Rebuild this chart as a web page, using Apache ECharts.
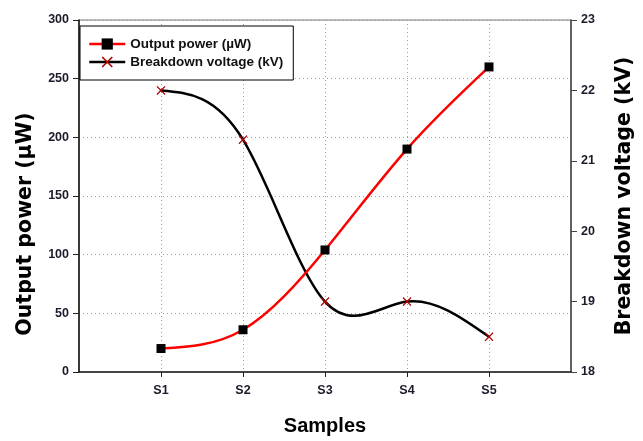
<!DOCTYPE html>
<html>
<head>
<meta charset="utf-8">
<script src="https://cdn.jsdelivr.net/npm/echarts@6/dist/echarts.min.js"></script>
<style>html,body{margin:0;padding:0;background:#fff}#c{width:643px;height:441px}</style>
</head>
<body>
<div id="c"></div>
<script>
var categories = ['S1', 'S2', 'S3', 'S4', 'S5'];
var outputPower = [20, 36, 104, 190, 260];
var breakdownVoltage = [22.0, 21.3, 19.0, 19.0, 18.5];
var leftTicks = {min: 0, max: 300, interval: 50};
var rightTicks = {min: 18, max: 23, interval: 1};

var xData = [''].concat(categories, ['']);
var pad = function (arr) { return ['-'].concat(arr, ['-']); };
var inner = function (i) { return i > 0 && i < xData.length - 1; };
var xMark = 'path://M1,0 L5,4 L9,0 L10,1 L6,5 L10,9 L9,10 L5,6 L1,10 L0,9 L4,5 L0,1 Z';
var tickFont = {fontFamily: 'Liberation Sans, Arial, sans-serif', fontWeight: 'bold', fontSize: 12.5, color: '#1a1a2a'};
var dotted = {type: [1, 3], color: '#a5a57a', width: 1};

// natural cubic spline through pixel points (uniform x spacing), returned as SVG path data
function splinePath(pts) {
  var n = pts.length;
  if (n < 2) return '';
  var h = pts[1][0] - pts[0][0];
  var M = new Array(n).fill(0);
  if (n > 2) {
    var m = n - 2, a = [], b = [], c = [], d = [];
    for (var i = 1; i <= m; i++) {
      a.push(1); b.push(4); c.push(1);
      d.push(6 * (pts[i + 1][1] - 2 * pts[i][1] + pts[i - 1][1]) / (h * h));
    }
    for (var k = 1; k < m; k++) {
      var w = a[k] / b[k - 1];
      b[k] -= w * c[k - 1];
      d[k] -= w * d[k - 1];
    }
    var sol = new Array(m);
    sol[m - 1] = d[m - 1] / b[m - 1];
    for (var k2 = m - 2; k2 >= 0; k2--) sol[k2] = (d[k2] - c[k2] * sol[k2 + 1]) / b[k2];
    for (var j = 0; j < m; j++) M[j + 1] = sol[j];
  }
  var s = 'M' + pts[0][0] + ' ' + pts[0][1];
  for (var q = 0; q < n - 1; q++) {
    var x0 = pts[q][0], y0 = pts[q][1], x1 = pts[q + 1][0], y1 = pts[q + 1][1];
    var hh = x1 - x0;
    var slope = (y1 - y0) / hh;
    var d0 = slope - hh * (2 * M[q] + M[q + 1]) / 6;
    var d1 = slope + hh * (M[q] + 2 * M[q + 1]) / 6;
    s += ' C' + (x0 + hh / 3) + ' ' + (y0 + d0 * hh / 3) + ' ' +
         (x1 - hh / 3) + ' ' + (y1 - d1 * hh / 3) + ' ' + x1 + ' ' + y1;
  }
  return s;
}

function curveSeries(values, yAxisIndex, color, z) {
  return {
    type: 'custom', coordinateSystem: 'cartesian2d', yAxisIndex: yAxisIndex, silent: true, z: z,
    data: values.map(function (v, i) { return [i + 1, v]; }),
    renderItem: function (params, api) {
      if (params.dataIndex !== 0) return null;
      var pts = values.map(function (v, i) { return api.coord([i + 1, v]); });
      return {type: 'path', shape: {pathData: splinePath(pts)},
        style: {stroke: color, lineWidth: 2.5, fill: null, lineJoin: 'round', lineCap: 'round'}};
    }
  };
}

var chart = echarts.init(document.getElementById('c'), null, {renderer: 'canvas'});
chart.setOption({
  animation: false,
  grid: {left: 79, right: 62, top: 20, bottom: 61, show: true, borderColor: '#777', borderWidth: 1},
  legend: {
    orient: 'vertical', left: 80, top: 26,
    padding: [11, 10, 11, 8], itemGap: 4, itemWidth: 36, itemHeight: 14,
    backgroundColor: '#fff', borderColor: '#000', borderWidth: 1, borderRadius: 0,
    textStyle: {fontFamily: 'Liberation Sans, Arial, sans-serif', fontWeight: 'bold', fontSize: 13.5, color: '#111'},
    data: [
      {name: 'Output power (µW)', lineStyle: {color: '#ff0000', width: 2.5, opacity: 1}},
      {name: 'Breakdown voltage (kV)', lineStyle: {color: '#000', width: 2.5, opacity: 1}}
    ]
  },
  xAxis: {
    type: 'category', data: xData, boundaryGap: false,
    name: 'Samples', nameLocation: 'middle', nameGap: 44,
    nameTextStyle: {fontFamily: 'Liberation Sans, Arial, sans-serif', fontWeight: 'bold', fontSize: 20, color: '#000'},
    axisLine: {lineStyle: {color: '#222', width: 1.5}},
    axisTick: {show: true, inside: false, length: 5, interval: function (i) { return inner(i); }, lineStyle: {color: '#222'}},
    axisLabel: Object.assign({margin: 12, interval: 0}, tickFont),
    splitLine: {show: true, interval: function (i) { return inner(i); }, lineStyle: dotted}
  },
  yAxis: [{
    type: 'value', position: 'left', min: leftTicks.min, max: leftTicks.max, interval: leftTicks.interval,
    name: 'Output power (µW)', nameLocation: 'middle', nameGap: 43, nameRotate: 90,
    nameTextStyle: {fontFamily: 'DejaVu Sans, sans-serif', fontWeight: 'bold', fontSize: 20.5, color: '#000',
      padding: [0, 56, 0, 0]},
    axisLine: {show: true, lineStyle: {color: '#111', width: 1.5}},
    axisTick: {show: true, length: 6, lineStyle: {color: '#222'}},
    axisLabel: Object.assign({margin: 10}, tickFont),
    splitLine: {show: true, lineStyle: dotted}
  }, {
    type: 'value', position: 'right', min: rightTicks.min, max: rightTicks.max, interval: rightTicks.interval,
    name: 'Breakdown voltage (kV)', nameLocation: 'middle', nameGap: 43, nameRotate: 90,
    nameTextStyle: {fontFamily: 'DejaVu Sans, sans-serif', fontWeight: 'bold', fontSize: 20.5, color: '#000'},
    axisLine: {show: true, lineStyle: {color: '#444', width: 1.5}},
    axisTick: {show: true, length: 6, lineStyle: {color: '#444'}},
    axisLabel: Object.assign({margin: 10}, tickFont),
    splitLine: {show: false}
  }],
  series: [
    curveSeries(breakdownVoltage, 1, '#000', 2),
    curveSeries(outputPower, 0, '#ff0000', 3),
    {
      name: 'Output power (µW)', type: 'line', yAxisIndex: 0, data: pad(outputPower),
      symbol: 'rect', symbolSize: 9,
      lineStyle: {color: '#ff0000', width: 2.5, opacity: 0}, itemStyle: {color: '#000'}, z: 5
    }, {
      name: 'Breakdown voltage (kV)', type: 'line', yAxisIndex: 1, data: pad(breakdownVoltage),
      symbol: xMark, symbolSize: 9,
      lineStyle: {color: '#000', width: 2.5, opacity: 0}, itemStyle: {color: '#b00000'}, z: 5
    }
  ]
});
</script>
</body>
</html>
